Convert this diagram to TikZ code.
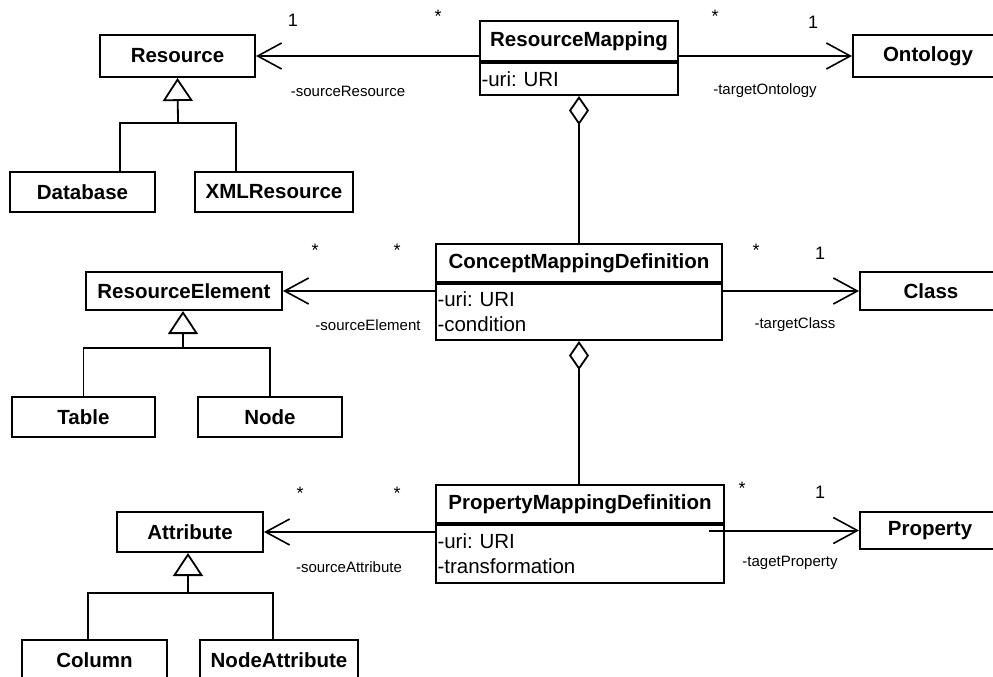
\documentclass[tikz,border=0pt]{standalone}
\usepackage{fontspec}
\setmainfont{Liberation Sans}
\usetikzlibrary{arrows.meta,calc}
\begin{document}
\frenchspacing
\begin{tikzpicture}[x=1pt,y=-1pt,
  cls/.style={draw, line width=2pt, inner sep=0pt, font=\fontsize{20.5}{24}\selectfont\bfseries},
  attrs/.style={draw, line width=2pt, inner xsep=1.5pt, inner ysep=0pt, align=left,
                font=\fontsize{20.5}{25}\selectfont\frenchspacing, anchor=north},
  assoc/.style={line width=1.6pt, -{Straight Barb[length=24pt,width=26pt,line width=1.6pt]}},
  agg/.style={line width=1.8pt, -{Diamond[open,length=29pt,width=20pt,line width=1.8pt]}},
  gen/.style={line width=1.8pt, -{Triangle[open,length=23pt,width=30pt,line width=1.8pt]}},
  genline/.style={line width=1.8pt},
  mult/.style={font=\fontsize{18}{20}\selectfont, inner sep=0pt},
  role/.style={font=\fontsize{15}{17}\selectfont, inner sep=0pt}]

\useasboundingbox (0,0) rectangle (993,677);
\fill[white] (0,0) rectangle (993,677);

% --- mapping classes ---
\node[cls, minimum width=198, minimum height=40] (rm) at (579,41) {ResourceMapping};
\node[attrs, text width=195, minimum height=32] (rmA) at (rm.south) {-uri: URI};

\node[cls, minimum width=286, minimum height=38] (cmd) at (579,263) {ConceptMappingDefinition};
\node[attrs, text width=283, minimum height=56] (cmdA) at (cmd.south) {-uri: URI\\-condition};

\node[cls, minimum width=288, minimum height=38] (pmd) at (580,504) {PropertyMappingDefinition};
\node[attrs, text width=285, minimum height=58] (pmdA) at (pmd.south) {-uri: URI\\-transformation};

% --- source side ---
\node[cls, minimum width=155, minimum height=42] (res) at (177.5,56) {Resource};
\node[cls, minimum width=145, minimum height=40] (db) at (82.5,192) {Database};
\node[cls, minimum width=158, minimum height=40] (xml) at (274,192) {XMLResource};

\node[cls, minimum width=196, minimum height=38] (rel) at (184,291) {ResourceElement};
\node[cls, minimum width=143, minimum height=40] (tab) at (83.5,417) {Table};
\node[cls, minimum width=144, minimum height=40] (nod) at (270,417) {Node};

\node[cls, minimum width=146, minimum height=40] (att) at (190,532) {Attribute};
\node[cls, minimum width=145, minimum height=40] (col) at (94.5,660) {Column};
\node[cls, minimum width=158, minimum height=40] (natt) at (279,660) {NodeAttribute};

% --- target side ---
\node[cls, minimum width=150, minimum height=42] (ont) at (928,56) {Ontology};
\node[cls, minimum width=142, minimum height=38] (cla) at (931,291) {Class};
\node[cls, minimum width=140, minimum height=37] (prop) at (930,530.5) {Property};

% --- aggregations ---
\draw[agg] (cmd.north) -- (rmA.south);
\draw[agg] (cmdA.south |- pmd.north) -- (cmdA.south);

% --- associations ---
\draw[assoc] (rm.south west |- res.east) -- (res.east);
\draw[assoc] (rm.south east |- ont.west) -- (ont.west);
\draw[assoc] (cmdA.west |- rel.east) -- (rel.east);
\draw[assoc] (cmdA.east |- cla.west) -- (cla.west);
\draw[assoc] (pmdA.west |- att.east) -- (att.east);
\draw[assoc, line width=2pt] ([xshift=-16pt]pmdA.east |- prop.west) -- (prop.west);

% --- multiplicities and roles ---
\node[mult] (m1) at (293,20) {1};
\node[mult] (m2) at (438,16) {*};
\node[role] (r1) at (348,91) {-sourceResource};
\node[mult] (m3) at (715,16) {*};
\node[mult] (m4) at (813,22) {1};
\node[role] (r2) at (765,91) {-targetOntology};

\node[mult] (m5) at (315,250) {*};
\node[mult] (m6) at (397,250) {*};
\node[role] (r3) at (368,325) {-sourceElement};
\node[mult] (m7) at (756,250) {*};
\node[mult] (m8) at (820,253) {1};
\node[role] (r4) at (795,325) {-targetClass};

\node[mult] (m9) at (300,493) {*};
\node[mult] (m10) at (397,493) {*};
\node[role] (r5) at (349,567) {-sourceAttribute};
\node[mult] (m11) at (742,488) {*};
\node[mult] (m12) at (820,492) {1};
\node[role] (r6) at (790,563) {-tagetProperty};

% --- generalizations ---
\coordinate (j1) at (178,123);
\draw[gen] (j1) -- (res.south);
\draw[genline] ([xshift=37.5pt]db.north) |- (j1) -| ([xshift=-38pt]xml.north);

\coordinate (j2) at (183,348);
\draw[gen] (j2) -- (rel.south -| j2);
\draw[genline] (tab.north) |- (j2) -| (nod.north);

\coordinate (j3) at (188,593);
\draw[gen] (j3) -- (att.south -| j3);
\draw[genline] ([xshift=-6.5pt]col.north) |- (j3) -| ([xshift=-6pt]natt.north);
\end{tikzpicture}
\end{document}
